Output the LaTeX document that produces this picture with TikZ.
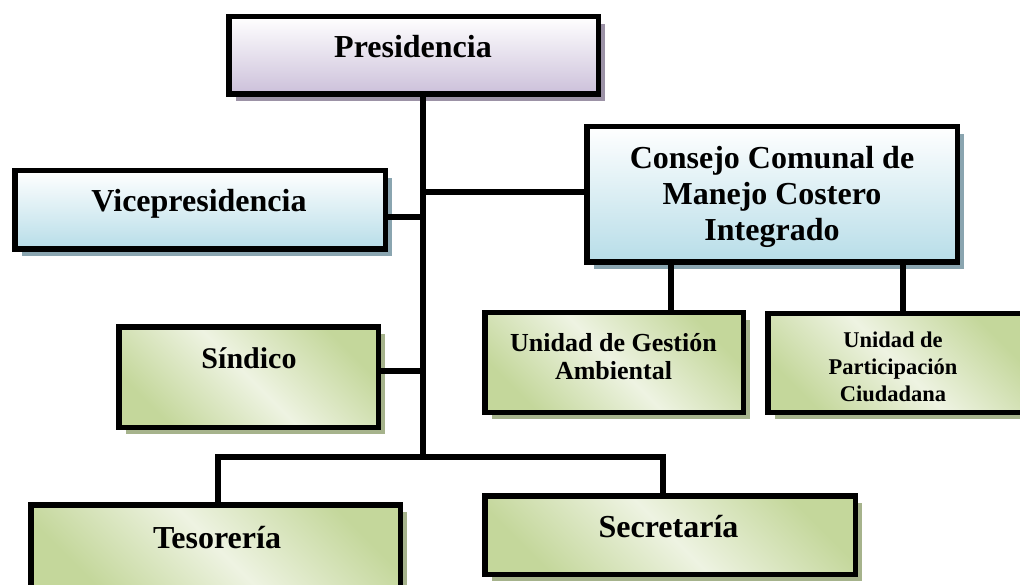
\documentclass[tikz,border=0pt]{standalone}
\usepackage{fontspec}
\setmainfont{Liberation Serif}
\usetikzlibrary{shadows}
\definecolor{presBot}{RGB}{204,192,218}
\definecolor{presSh}{RGB}{156,146,166}
\definecolor{blueBot}{RGB}{183,221,232}
\definecolor{blueSh}{RGB}{138,165,176}
\definecolor{grnDark}{RGB}{196,215,155}
\definecolor{grnLight}{RGB}{238,243,226}
\definecolor{grnSh}{RGB}{166,179,140}
\tikzset{
  box/.style={draw=black, line width=5.5pt, rectangle, inner sep=0pt},
  purplebox/.style={box, top color=white, bottom color=presBot,
    drop shadow={shadow xshift=7pt, shadow yshift=-7pt, fill=presSh, opacity=1}},
  bluebox/.style={box, top color=white, bottom color=blueBot,
    drop shadow={shadow xshift=7pt, shadow yshift=-7pt, fill=blueSh, opacity=1}},
  greenbox/.style={box, top color=grnDark, bottom color=grnDark, middle color=grnLight, shading angle=-45,
    drop shadow={shadow xshift=7pt, shadow yshift=-7pt, fill=grnSh, opacity=1}},
  conn/.style={line width=5.5pt},
  bigtext/.style={font=\bfseries\fontsize{32}{36}\selectfont, align=center, anchor=base, inner sep=0pt},
  sindtext/.style={font=\bfseries\fontsize{30}{34}\selectfont, align=center, anchor=base, inner sep=0pt},
  midtext/.style={font=\bfseries\fontsize{26}{28}\selectfont, align=center, anchor=base, inner sep=0pt},
  smalltext/.style={font=\bfseries\fontsize{22.5}{27}\selectfont, align=center, anchor=base, inner sep=0pt},
}
\begin{document}
\begin{tikzpicture}[x=1pt, y=-1pt]
\useasboundingbox (0,0) rectangle (1020,585);
\clip (0,0) rectangle (1020,585);
% boxes
\node[purplebox, minimum width=369.5pt, minimum height=77.5pt] (pres) at (413.5,55.5) {};
\node[bluebox, minimum width=370.5pt, minimum height=78.5pt] (vice) at (200,210) {};
\node[bluebox, minimum width=370.5pt, minimum height=135.5pt] (cons) at (772,194.5) {};
\node[greenbox, minimum width=259.5pt, minimum height=100.5pt] (sind) at (248.5,377) {};
\node[greenbox, minimum width=258.5pt, minimum height=99.5pt] (ugest) at (614,362.5) {};
\node[greenbox, minimum width=258.5pt, minimum height=98.5pt] (upart) at (897,363) {};
\node[greenbox, minimum width=369.5pt, minimum height=82.5pt] (teso) at (215.5,546) {};
\node[greenbox, minimum width=370.5pt, minimum height=78.5pt] (secr) at (670,535) {};
% junctions
\coordinate (jBar) at (423,457);
\coordinate (jVice) at (423,217);
\coordinate (jCons) at (423,192);
\coordinate (jSind) at (423,371);
\coordinate (jTeso) at (218,457);
\coordinate (jSecr) at (663,457);
\coordinate (xUg) at (671,290);
\coordinate (xUp) at (903,290);
% connectors
\draw[conn] (pres.south -| jBar) -- (jBar);
\draw[conn] (vice.east |- jVice) -- (jVice);
\draw[conn] (jCons) -- (cons.west |- jCons);
\draw[conn] (sind.east |- jSind) -- (jSind);
\draw[conn] (teso.north -| jTeso) -- (jTeso) -- (jSecr) -- (secr.north -| jSecr);
\draw[conn] (cons.south -| xUg) -- (ugest.north -| xUg);
\draw[conn] (cons.south -| xUp) -- (upart.north -| xUp);
% texts (base anchor of multi-line nodes = last line's baseline)
\node[bigtext] (pres-t) at (413,58) {Presidencia};
\node[bigtext] (vice-t) at (199,212) {Vicepresidencia};
\node[bigtext] (cons-t) at (772,241) {Consejo Comunal de\\Manejo Costero\\Integrado};
\node[sindtext] (sind-t) at (249,368) {Síndico};
\node[midtext] (ug-t) at (613.5,379) {Unidad de Gestión\\Ambiental};
\node[smalltext] (up-t) at (893,401) {Unidad de\\Participación\\Ciudadana};
\node[bigtext] (teso-t) at (217,548) {Tesorería};
\node[bigtext] (secr-t) at (668.5,537) {Secretaría};
\end{tikzpicture}
\end{document}
